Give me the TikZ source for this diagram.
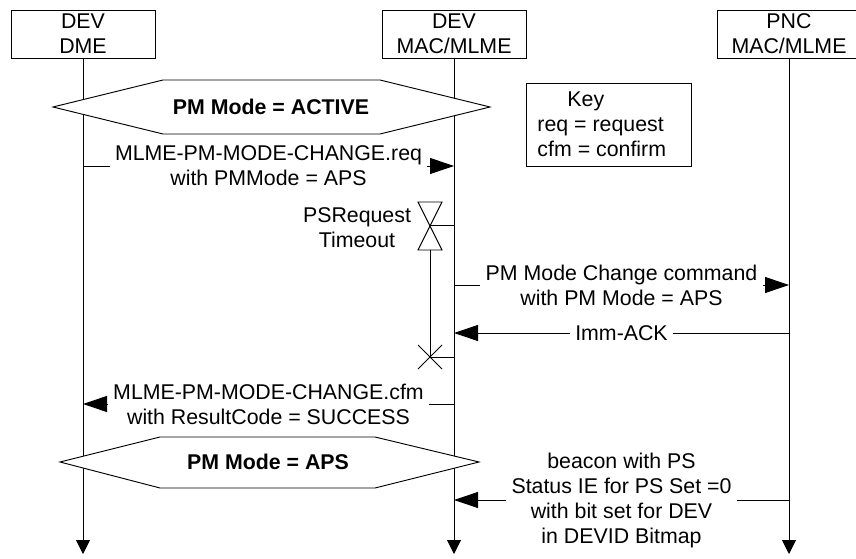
\documentclass[tikz,border=0pt]{standalone}
\usepackage{fontspec}
\setmainfont{Liberation Sans}
\usetikzlibrary{arrows.meta}

\tikzset{
  every node/.style={font=\fontsize{16}{18.75}\selectfont},
  entity/.style={draw, fill=white, minimum width=108pt, minimum height=36pt, align=center, inner sep=0pt},
  lifeline/.style={-{Triangle[length=10.5pt,width=10.5pt]}},
  msg/.style={-{Triangle[length=18pt,width=12pt]}},
  msglabel/.style={fill=white, align=center, inner xsep=4pt, inner ysep=0pt},
  state/.style={draw, fill=white},
  statelabel/.style={font=\fontsize{16}{18.75}\selectfont\bfseries}
}

\begin{document}
\begin{tikzpicture}[x=0.75pt,y=0.75pt,yscale=-1,xscale=1,line width=0.7pt]
\useasboundingbox (0,0) rectangle (856,559);

% entities
\node[entity] (dme) at (83,34) {DEV\\DME};
\node[entity] (mac) at (454,34) {DEV\\MAC/MLME};
\node[entity] (pnc) at (789,34) {PNC\\MAC/MLME};

% lifelines
\coordinate (dmeEnd) at (83,554);
\coordinate (macEnd) at (454,554);
\coordinate (pncEnd) at (789,554);
\draw[lifeline] (dme.south) -- (dmeEnd);
\draw[lifeline] (mac.south) -- (macEnd);
\draw[lifeline] (pnc.south) -- (pncEnd);

% state ACTIVE
\draw[state] (53,107) -- (163,80) -- (380,80) -- (490,107) -- (380,134) -- (163,134) -- cycle;
\node[statelabel] (active) at (271,107) {PM Mode = ACTIVE};

% key
\node[draw, minimum width=123.75pt, minimum height=62.25pt] (keybox) at (608.5,124.5) {};
\node[anchor=west, align=left, inner sep=0pt] (keytext) at (537,124) {\hspace*{22.5pt}Key\\req = request\\cfm = confirm};

% request
\coordinate (reqA) at (83,166);
\coordinate (reqB) at (454,166);
\draw[msg] (reqA) -- (reqB) node[msglabel, midway] (req) {MLME-PM-MODE-CHANGE.req\\with PMMode = APS};

% timer
\coordinate (tmrStart) at (430,225);
\coordinate (tmrStop) at (430,357);
\draw (418,202) -- (442,202) -- (418,250) -- (442,250) -- cycle;
\draw (tmrStart) -- (mac.center |- tmrStart);
\draw (430,250) -- (tmrStop);
\draw (418,345) -- (442,369) (418,369) -- (442,345);
\draw (tmrStop) -- (mac.center |- tmrStop);
\node[align=center] (timer) at (357,228) {PSRequest\\Timeout};

% mode change command
\coordinate (cmdA) at (454,285);
\coordinate (cmdB) at (789,285);
\draw[msg] (cmdA) -- (cmdB) node[msglabel, midway] (cmd) {PM Mode Change command\\with PM Mode = APS};

% ack
\coordinate (ackA) at (789,333);
\coordinate (ackB) at (454,333);
\draw[msg] (ackA) -- (ackB) node[msglabel, midway] (ack) {Imm-ACK};

% confirm
\coordinate (cfmA) at (454,404);
\coordinate (cfmB) at (83,404);
\draw[msg] (cfmA) -- (cfmB) node[msglabel, midway] (cfm) {MLME-PM-MODE-CHANGE.cfm\\with ResultCode = SUCCESS};

% state APS
\draw[state] (60,462) -- (160,437) -- (375,437) -- (479,462) -- (375,488) -- (160,488) -- cycle;
\node[statelabel] (aps) at (268,462) {PM Mode = APS};

% beacon
\coordinate (bcnA) at (789,500);
\coordinate (bcnB) at (454,500);
\draw[msg] (bcnA) -- (bcnB) node[msglabel, midway] (bcn) {beacon with PS\\Status IE for PS Set =0\\with bit set for DEV\\in DEVID Bitmap};

\end{tikzpicture}
\end{document}
